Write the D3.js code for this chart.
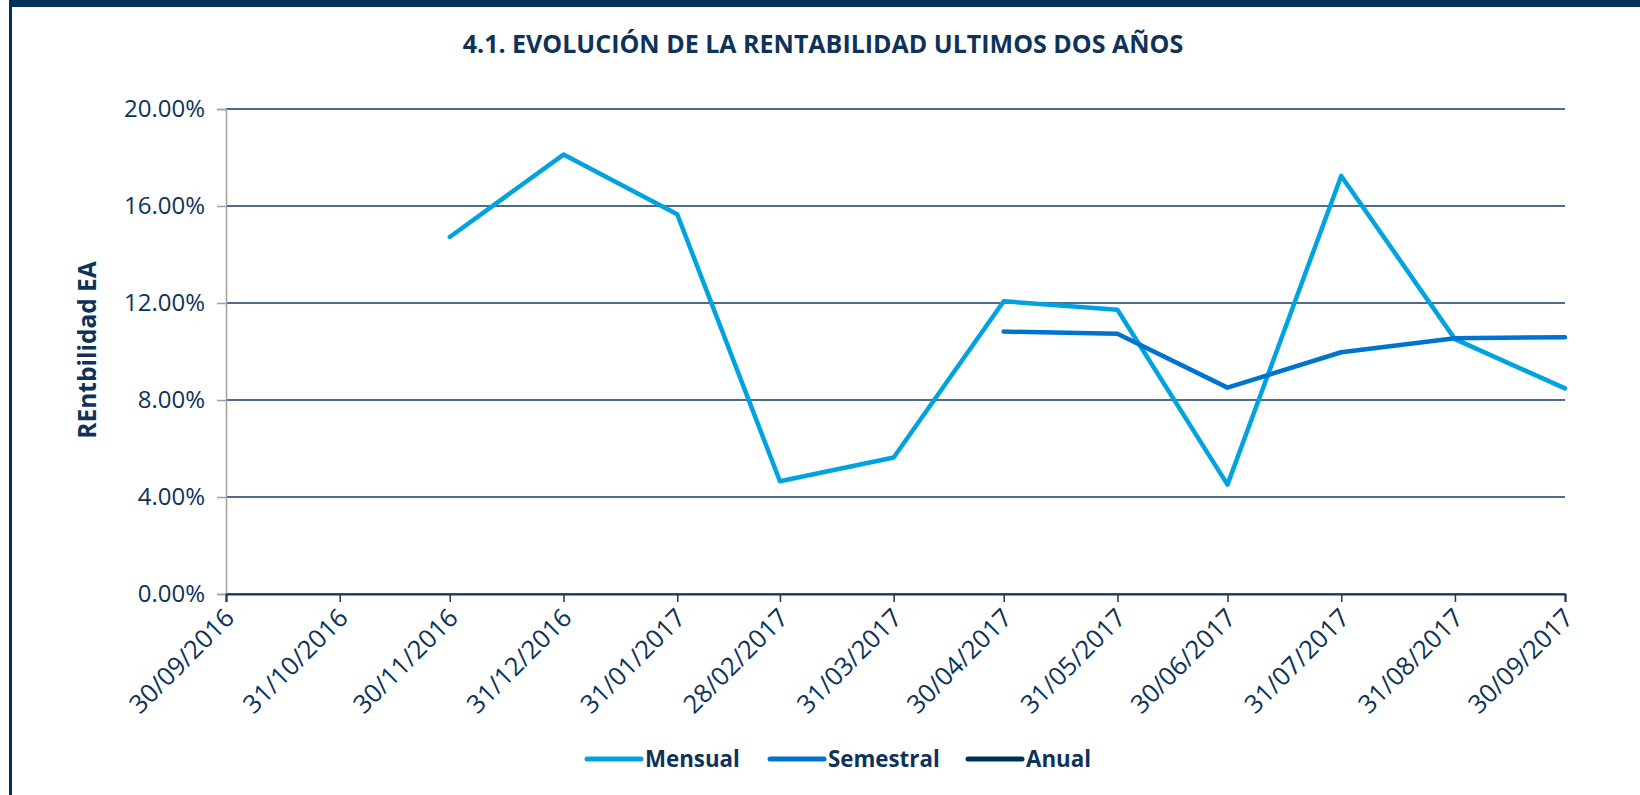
<!DOCTYPE html>
<html>
<head>
<meta charset="utf-8">
<script src="https://cdn.jsdelivr.net/npm/d3@7"></script>
<style>
  body { margin: 0; background: #fff; }
  svg { display: block; font-family: "Open Sans", sans-serif; }
</style>
</head>
<body>
<svg id="chart" width="1640" height="795"></svg>
<script>
// fechas de corte (eje X)
const fechas = ["30/09/2016", "31/10/2016", "30/11/2016", "31/12/2016", "31/01/2017", "28/02/2017",
  "31/03/2017", "30/04/2017", "31/05/2017", "30/06/2017", "31/07/2017", "31/08/2017", "30/09/2017"]

// rentabilidad EA en %
const mensual   = [null, null, 14.72, 18.12, 15.66, 4.65, 5.63, 12.07, 11.72, 4.51, 17.24, 10.51, 8.48]
const semestral = [null, null, null, null, null, null, null, 10.82, 10.73, 8.51, 9.97, 10.55, 10.59]
const anual     = [null, null, null, null, null, null, null, null, null, null, null, null, null]

const yTicks = [0, 4, 8, 12, 16, 20]
const seriesNames = ["Mensual", "Semestral", "Anual"]
const seriesColors = ["#00a3e0", "#0073cf", "#00305a"]

const navy = "#00305a"
const textColor = "#0f3358"

const parseDate = d3.timeParse("%d/%m/%Y")
const svg = d3.select("#chart")

// marco
svg.append("rect").attr("x", 9).attr("y", 0).attr("width", 1631).attr("height", 7).attr("fill", navy)
svg.append("rect").attr("x", 9).attr("y", 0).attr("width", 3).attr("height", 795).attr("fill", navy)

const plotLeft = 226, plotRight = 1565, plotTop = 109, plotBottom = 594

const x = d3.scaleTime()
  .domain([parseDate(fechas[0]), parseDate(fechas[fechas.length - 1])])
  .range([plotLeft, plotRight])
const y = d3.scaleLinear().domain([0, 20]).range([plotBottom, plotTop])

// titulo
svg.append("text")
  .attr("x", 823).attr("y", 53)
  .attr("text-anchor", "middle")
  .attr("font-weight", "bold")
  .attr("font-size", 25)
  .attr("fill", textColor)
  .text("4.1. EVOLUCIÓN DE LA RENTABILIDAD ULTIMOS DOS AÑOS")

// lineas de cuadricula
svg.append("g")
  .selectAll("line")
  .data(yTicks)
  .enter()
  .append("line")
  .attr("x1", plotLeft).attr("x2", plotRight)
  .attr("y1", d => y(d)).attr("y2", d => y(d))
  .attr("stroke", "#17385c")
  .attr("stroke-width", 1.5)

// eje Y
const yAxis = svg.append("g")
  .attr("transform", `translate(${plotLeft},0)`)
  .call(d3.axisLeft(y).tickValues(yTicks).tickSize(9).tickPadding(12).tickFormat(d => d.toFixed(2) + "%"))
yAxis.select(".domain").attr("stroke", "#a0a0a0").attr("stroke-width", 1.5)
yAxis.selectAll(".tick line").attr("stroke", "#a0a0a0").attr("stroke-width", 1.5)
yAxis.selectAll(".tick text")
  .attr("font-size", 24)
  .attr("font-family", "Open Sans, sans-serif")
  .attr("fill", textColor)

svg.append("text")
  .attr("transform", "translate(96,350) rotate(-90)")
  .attr("text-anchor", "middle")
  .attr("font-weight", "bold")
  .attr("font-size", 24.5)
  .attr("fill", textColor)
  .text("REntbilidad EA")

// eje X
const xAxis = svg.append("g")
  .attr("transform", `translate(0,${plotBottom})`)
  .call(d3.axisBottom(x).tickValues(fechas.map(parseDate)).tickSize(8).tickFormat(d3.timeFormat("%d/%m/%Y")))
xAxis.select(".domain").attr("stroke", "#17385c").attr("stroke-width", 2)
xAxis.selectAll(".tick line").attr("stroke", "#17385c").attr("stroke-width", 1.5)
xAxis.selectAll(".tick text")
  .attr("font-size", 25.5)
  .attr("font-family", "Open Sans, sans-serif")
  .attr("fill", textColor)
  .attr("text-anchor", "end")
  .attr("dy", "0.35em")
  .attr("transform", "translate(3,19) rotate(-45)")
  .attr("y", 0)

// series
const allSeries = [mensual, semestral, anual]
const line = d3.line()
  .defined(d => d.v !== null)
  .x(d => x(d.date))
  .y(d => y(d.v))

allSeries.forEach((serie, i) => {
  const pts = serie.map((v, j) => ({ date: parseDate(fechas[j]), v: v }))
  svg.append("path")
    .datum(pts)
    .attr("d", line)
    .attr("fill", "none")
    .attr("stroke", seriesColors[i])
    .attr("stroke-width", 4.5)
    .attr("stroke-linejoin", "round")
    .attr("stroke-linecap", "round")
})

// leyenda
const legendX = [587, 770, 968]
const legend = svg.append("g")
  .selectAll("g")
  .data(seriesNames)
  .enter()
  .append("g")
  .attr("transform", (d, i) => `translate(${legendX[i]},759)`)
legend.append("line")
  .attr("x1", 0).attr("x2", 54)
  .attr("stroke", (d, i) => seriesColors[i])
  .attr("stroke-width", 5)
  .attr("stroke-linecap", "round")
legend.append("text")
  .attr("x", 58).attr("dy", "0.35em")
  .attr("font-weight", "bold")
  .attr("font-size", 22.3)
  .attr("fill", textColor)
  .text(d => d)
</script>
</body>
</html>
